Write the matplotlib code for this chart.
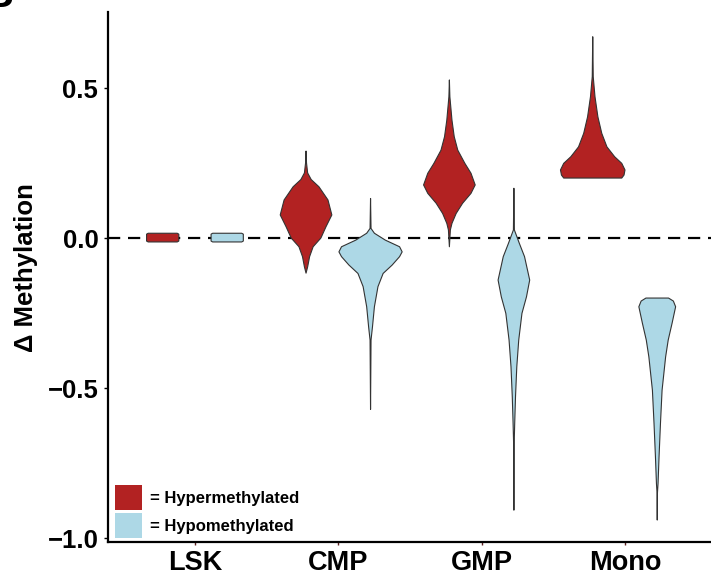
import matplotlib
matplotlib.use("Agg")
import matplotlib.pyplot as plt
from matplotlib.patches import Patch

plt.rcParams['font.family'] = ['Liberation Sans', 'DejaVu Sans']
plt.rcParams['font.weight'] = 'bold'

# cell types on the x axis
cell_types = ["LSK", "CMP", "GMP", "Mono"]

RED = "#B22222"
BLUE = "#ADD8E6"

# violin outlines: delta methylation (y) and relative density (0..1)
hyper_y = [
    [0.016, 0.013, -0.010, -0.013],
    [0.29, 0.25, 0.217, 0.195, 0.171, 0.127, 0.077, 0.038, 0.0, -0.029, -0.062, -0.096, -0.117],
    [0.527, 0.471, 0.393, 0.338, 0.293, 0.249, 0.216, 0.177, 0.149, 0.116, 0.082, 0.049, 0.027, -0.029],
    [0.671, 0.538, 0.471, 0.404, 0.349, 0.304, 0.271, 0.249, 0.227, 0.21, 0.2],
]
hyper_dens = [
    [0.45, 0.50, 0.50, 0.45],
    [0, 0.015, 0.05, 0.16, 0.40, 0.68, 0.80, 0.62, 0.46, 0.22, 0.11, 0.05, 0],
    [0, 0.015, 0.08, 0.15, 0.26, 0.48, 0.67, 0.80, 0.67, 0.41, 0.21, 0.08, 0.03, 0],
    [0, 0.015, 0.07, 0.16, 0.28, 0.44, 0.68, 0.90, 1.0, 0.97, 0.90],
]
hypo_y = [
    [0.016, 0.013, -0.010, -0.013],
    [0.132, 0.032, 0.016, -0.007, -0.029, -0.046, -0.062, -0.09, -0.118, -0.162, -0.229, -0.296, -0.34, -0.571],
    [0.166, 0.027, -0.018, -0.062, -0.14, -0.196, -0.251, -0.34, -0.429, -0.529, -0.618, -0.68, -0.907],
    [-0.2, -0.21, -0.229, -0.284, -0.34, -0.396, -0.507, -0.618, -0.729, -0.818, -0.85, -0.94],
]
hypo_dens = [
    [0.45, 0.50, 0.50, 0.45],
    [0, 0.015, 0.12, 0.46, 0.90, 0.98, 0.90, 0.67, 0.39, 0.23, 0.12, 0.06, 0.015, 0],
    [0, 0.015, 0.17, 0.33, 0.49, 0.39, 0.25, 0.15, 0.09, 0.05, 0.025, 0.01, 0],
    [0.35, 0.50, 0.57, 0.46, 0.34, 0.26, 0.15, 0.10, 0.056, 0.025, 0.006, 0],
]

dodge = 0.225
half_max = 0.225


def draw_violin(ax, xc, ys, dens, color):
    right = [xc + d * half_max for d in dens]
    left = [xc - d * half_max for d in dens]
    xs = right + left[::-1]
    yy = list(ys) + list(ys)[::-1]
    ax.fill(xs, yy, facecolor=color, edgecolor="#333333", linewidth=0.8,
            joinstyle="round", zorder=3)


fig = plt.figure(figsize=(7.11, 5.79), dpi=100)
ax = fig.add_axes([0.152, 0.064, 0.848, 0.915])

ax.axhline(0, color="black", linewidth=1.6, linestyle=(0, (5.5, 3.5)), zorder=1)

for i in range(len(cell_types)):
    draw_violin(ax, i + 1 - dodge, hyper_y[i], hyper_dens[i], RED)
    draw_violin(ax, i + 1 + dodge, hypo_y[i], hypo_dens[i], BLUE)

ax.set_xlim(0.394, 4.6)
ax.set_ylim(-1.013, 0.753)
ax.set_xticks(range(1, len(cell_types) + 1))
ax.set_xticklabels(cell_types)
ax.set_yticks([-1.0, -0.5, 0.0, 0.5])
ax.set_yticklabels(["\u22121.0", "\u22120.5", "0.0", "0.5"])
ax.tick_params(axis="y", length=3, width=1, pad=4, labelsize=18.5)
ax.tick_params(axis="x", length=2, width=1, color="#5a1f1f", pad=4, labelsize=19.5)
for s in ["top", "right"]:
    ax.spines[s].set_visible(False)
for s in ["left", "bottom"]:
    ax.spines[s].set_linewidth(1.6)

ax.set_ylabel("\u0394 Methylation", fontsize=18.5, fontweight="bold")
ax.yaxis.set_label_coords(-0.116, 0.517)

# legend keys drawn as plain squares inside the axes
handles = [Patch(facecolor=RED, edgecolor="none", label="= Hypermethylated"),
           Patch(facecolor=BLUE, edgecolor="none", label="= Hypomethylated")]
ax.legend(handles=handles, loc="lower left", frameon=False,
          prop={"size": 12, "weight": "bold"}, handlelength=1.62, handleheight=1.93,
          handletextpad=0.5, labelspacing=0.18, borderaxespad=0.0, borderpad=0.4,
          bbox_to_anchor=(0.0, -0.005))

# panel letter, mostly outside the canvas
fig.text(13 / 711, 1 - 7 / 579, "B", fontsize=30, fontweight="bold",
         ha="right", va="baseline")

fig.savefig("out.png", dpi=100)
